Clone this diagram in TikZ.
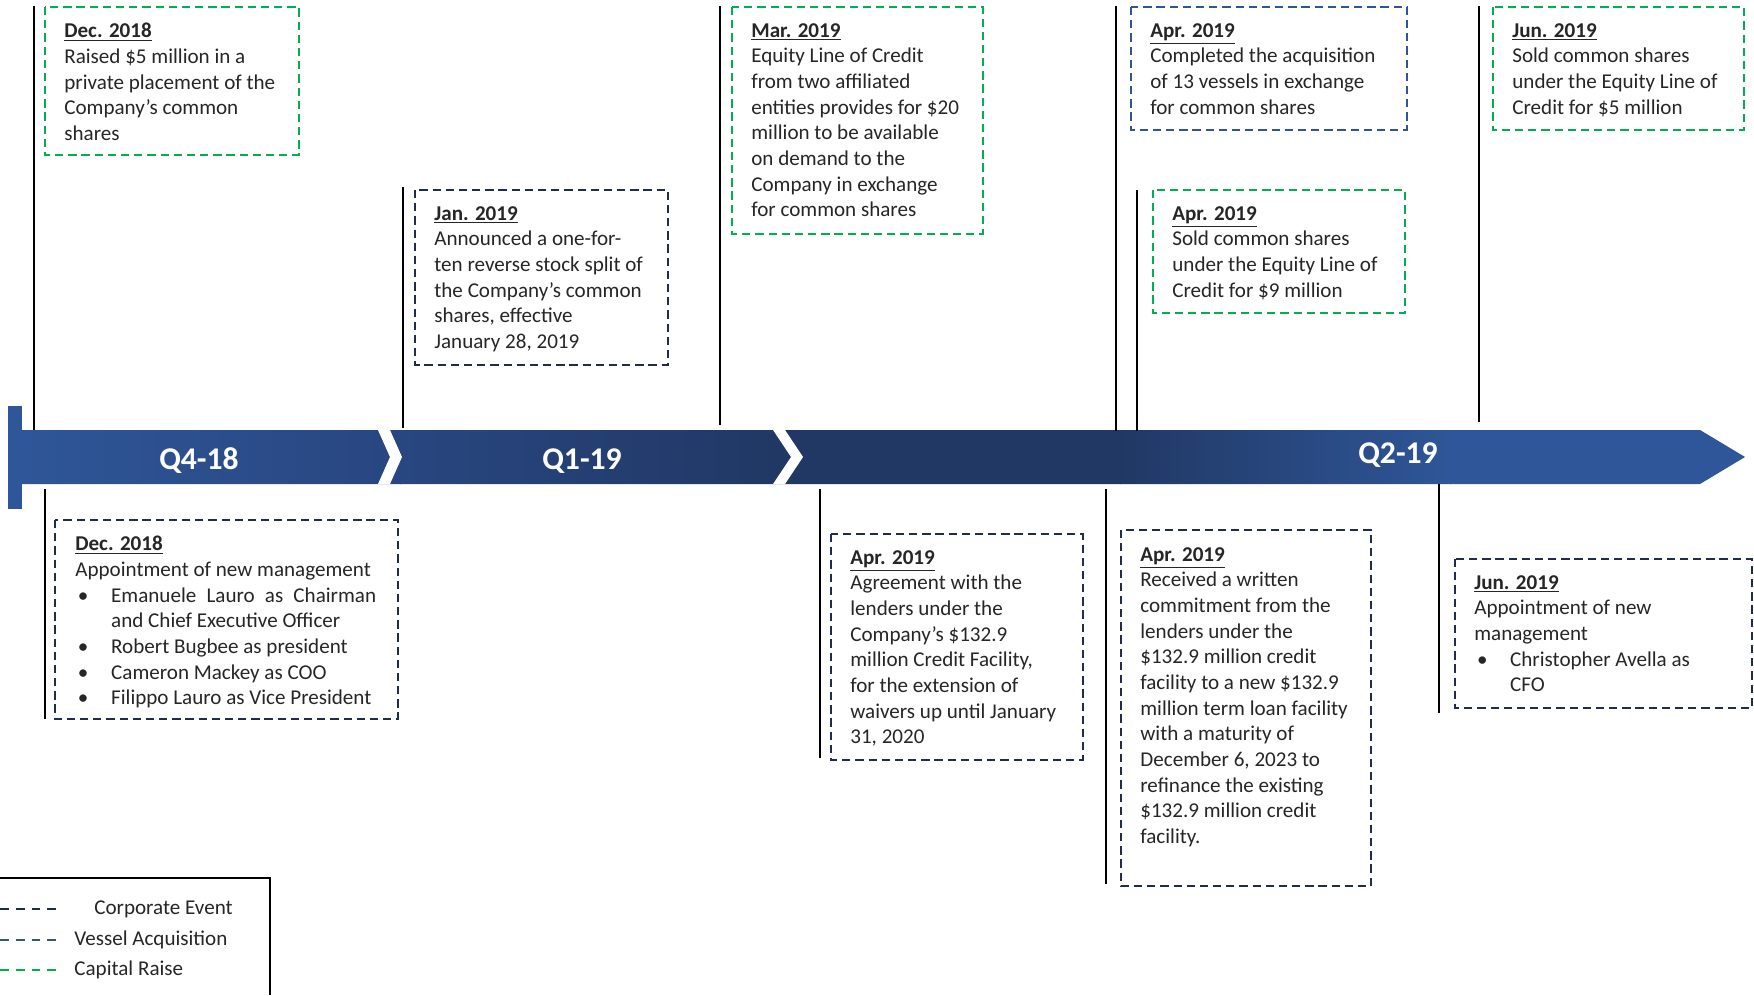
\documentclass[tikz,border=0pt]{standalone}
\usepackage{fontspec}
\setmainfont{Carlito}

\definecolor{corp}{RGB}{31,45,72}
\definecolor{vessel}{RGB}{47,85,151}
\definecolor{capgreen}{RGB}{0,176,80}
\definecolor{bandlight}{RGB}{47,86,152}
\definecolor{bandmid}{RGB}{40,70,128}
\definecolor{banddark}{RGB}{33,56,100}

\newcommand{\evhead}[1]{\underline{\textbf{#1}}}
\newcommand{\evbullet}{\makebox[20.4pt][l]{\hspace{1.5pt}\textbullet}}

\begin{document}
\begin{tikzpicture}[
        x=0.02cm, y=-0.02cm,
        evbox/.style={dash pattern=on 4.7pt off 2.8pt, line width=1.5pt},
        corpbox/.style={evbox, draw=corp},
        vesselbox/.style={evbox, draw=vessel},
        capbox/.style={evbox, draw=capgreen},
        marker/.style={black, line width=1.1pt},
        evtext/.style={anchor=north west, inner sep=0pt, align=left,
            font=\fontsize{12}{14.6}\selectfont, text=black!85},
        quarter/.style={text=white, font=\fontsize{18}{20}\selectfont\bfseries},
        legline/.style={dash pattern=on 5pt off 4pt, line width=1.3pt},
        ]
        \useasboundingbox (0,0) rectangle (1754,995);

        % Timeline band
        \fill[bandlight] (8,406) rectangle (22,509);
        \begin{scope}
            \clip (22,430) -- (1700,430) -- (1745,457) -- (1700,484) -- (22,484) -- cycle;
            \shade[left color=bandlight, right color=bandmid] (21,425) rectangle (401,490);
            \shade[left color=bandmid, right color=banddark] (400,425) rectangle (781,490);
            \fill[banddark] (780,425) rectangle (1121,490);
            \shade[left color=banddark, right color=bandlight] (1120,425) rectangle (1451,490);
            \fill[bandlight] (1450,425) rectangle (1750,490);
        \end{scope}
        \fill[white] (378,430) -- (390,430) -- (402,457) -- (390,484) -- (378,484) -- (390,457) -- cycle;
        \fill[white] (773,430) -- (785,430) -- (803,457) -- (785,484) -- (773,484) -- (791,457) -- cycle;
        \node[quarter] (q4) at (199,461) {Q4-18};
        \node[quarter] (q1) at (582,461) {Q1-19};
        \node[quarter] (q2) at (1398,455) {Q2-19};

        % Markers
        \draw[marker] (34,6) -- (34,430);
        \draw[marker] (403,187) -- (403,428);
        \draw[marker] (720,6) -- (720,425);
        \draw[marker] (1116,6) -- (1116,431);
        \draw[marker] (1137,190) -- (1137,431);
        \draw[marker] (1479,6) -- (1479,422);
        \draw[marker] (45,489) -- (45,719);
        \draw[marker] (820,489) -- (820,758);
        \draw[marker] (1106,489) -- (1106,884);
        \draw[marker] (1439,484) -- (1439,713);

        % Events above the band
        \draw[capbox] (45,7) rectangle (299,155);
        \node[evtext] (decraise) at (64,23) {\evhead{Dec. 2018}\\Raised \$5 million in a\\private placement of the\\Company’s common\\shares};

        \draw[corpbox] (415,190) rectangle (668,365);
        \node[evtext] (jansplit) at (434,206) {\evhead{Jan. 2019}\\Announced a one-for-\\ten reverse stock split of\\the Company’s common\\shares, effective\\January 28, 2019};

        \draw[capbox] (732,7) rectangle (983,234);
        \node[evtext] (marequity) at (751,23) {\evhead{Mar. 2019}\\Equity Line of Credit\\from two affiliated\\entities provides for \$20\\million to be available\\on demand to the\\Company in exchange\\for common shares};

        \draw[vesselbox] (1131,7) rectangle (1407,130);
        \node[evtext] (aprvessels) at (1150,23) {\evhead{Apr. 2019}\\Completed the acquisition\\of 13 vessels in exchange\\for common shares};

        \draw[capbox] (1153,190) rectangle (1405,313);
        \node[evtext] (aprsold) at (1172,206) {\evhead{Apr. 2019}\\Sold common shares\\under the Equity Line of\\Credit for \$9 million};

        \draw[capbox] (1493,7) rectangle (1744,130);
        \node[evtext] (junsold) at (1512,23) {\evhead{Jun. 2019}\\Sold common shares\\under the Equity Line of\\Credit for \$5 million};

        % Events below the band
        \draw[corpbox] (55,520) rectangle (398,719);
        \node[evtext] (decmgmt) at (75,536) {\evhead{Dec. 2018}\\Appointment of new management\\
            \evbullet\makebox[150.8pt][s]{Emanuele Lauro as Chairman}\\
            \hspace*{20.4pt}and Chief Executive Officer\\
            \evbullet Robert Bugbee as president\\
            \evbullet Cameron Mackey as COO\\
            \evbullet Filippo Lauro as Vice President};

        \draw[corpbox] (831,534) rectangle (1083,760);
        \node[evtext] (aprwaiver) at (850,550) {\evhead{Apr. 2019}\\Agreement with the\\lenders under the\\Company’s \$132.9\\million Credit Facility,\\for the extension of\\waivers up until January\\31, 2020};

        \draw[corpbox] (1121,530) rectangle (1371,886);
        \node[evtext] (aprloan) at (1140,547) {\evhead{Apr. 2019}\\Received a written\\commitment from the\\lenders under the\\\$132.9 million credit\\facility to a new \$132.9\\million term loan facility\\with a maturity of\\December 6, 2023 to\\refinance the existing\\\$132.9 million credit\\facility.};

        \draw[corpbox] (1455,559) rectangle (1752,708);
        \node[evtext] (junmgmt) at (1474,575) {\evhead{Jun. 2019}\\Appointment of new\\management\\
            \evbullet Christopher Avella as\\
            \hspace*{20.4pt}CFO};

        % Legend
        \draw[line width=1.2pt] (0,878) -- (270,878) -- (270,995);
        \draw[legline, corp] (0,909) -- (62,909);
        \draw[legline, vessel] (0,940) -- (62,940);
        \draw[legline, capgreen] (0,970) -- (62,970);
        \node[evtext, anchor=west] (legcorp) at (94,909) {Corporate Event};
        \node[evtext, anchor=west] (legvessel) at (74,940) {Vessel Acquisition};
        \node[evtext, anchor=west] (legcap) at (74,970) {Capital Raise};

    \end{tikzpicture}
\end{document}
